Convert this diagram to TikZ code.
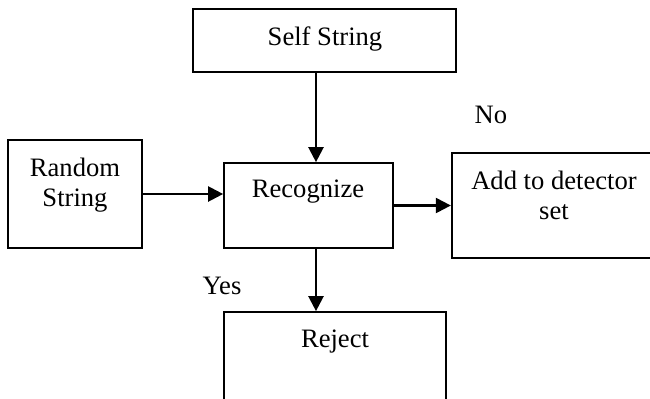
\documentclass[tikz,border=0pt]{standalone}
\usepackage{fontspec}
\setmainfont{Liberation Serif}
\usetikzlibrary{arrows.meta}

\begin{document}
\begin{tikzpicture}[x=0.5pt,y=-0.5pt,
		box/.style={draw,rectangle,line width=0.85pt,inner sep=0pt},
		arr/.style={-{Triangle[length=7.5pt,width=7.5pt]},line width=1.15pt},
		txt/.style={font=\fontsize{13.3}{14.8}\selectfont,anchor=base,align=center,inner sep=0pt}]
	\useasboundingbox (0,0) rectangle (650,398);
	\clip (0,0) rectangle (650,398);
	% boxes
	\node[box,minimum width=131.5pt,minimum height=31.5pt] (self) at (324.5,40.5){};
	\node[box,minimum width=67pt,minimum height=54pt] (rand) at (75,194){};
	\node[box,minimum width=84.5pt,minimum height=42.5pt] (recog) at (308.5,205.5){};
	\node[box,minimum width=102pt,minimum height=52.5pt,line width=1.15pt] (add) at (554,205.5){};
	\node[box,minimum width=111pt,minimum height=59pt] (reject) at (335,371){};
	% texts (base of the last line)
	\node[txt] (selftxt) at (325,45){Self String};
	\node[txt] (randtxt) at (75,206){Random\\String};
	\node[txt] (recogtxt) at (308,197){Recognize};
	\node[txt] (addtxt) at (554,219){Add to detector\\set};
	\node[txt] (rejecttxt) at (335,347){Reject};
	\node[txt] (no) at (491,123){No};
	\node[txt] (yes) at (222,294){Yes};
	% arrows
	\draw[arr] ([xshift=-4.25pt]self.south) -- ([xshift=-4.25pt]self.south |- recog.north);
	\draw[arr] (rand.east) -- (rand.east -| recog.west);
	\draw[arr] (recog.east) -- (add.west);
	\draw[arr] ([xshift=3.75pt]recog.south) -- ([xshift=3.75pt]recog.south |- reject.north);
\end{tikzpicture}
\end{document}
